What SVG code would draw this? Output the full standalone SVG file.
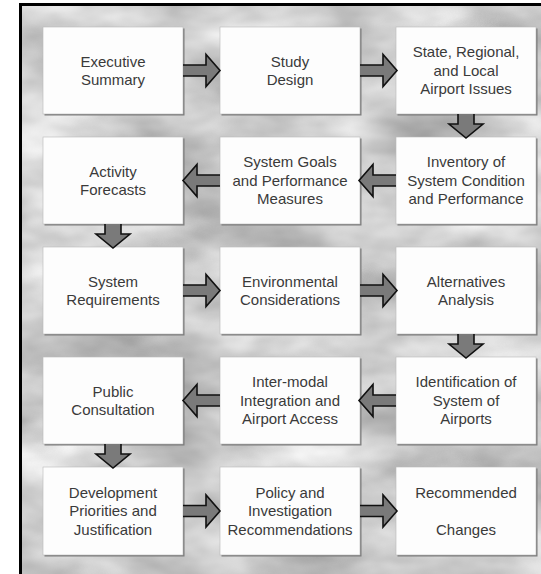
<svg xmlns="http://www.w3.org/2000/svg" xmlns:xlink="http://www.w3.org/1999/xlink" width="541" height="574" viewBox="0 0 541 574">
<defs>
<filter id="clouds" x="0" y="0" width="1" height="1" filterUnits="objectBoundingBox" color-interpolation-filters="sRGB">
<feTurbulence type="fractalNoise" baseFrequency="0.008 0.016" numOctaves="4" seed="7" result="n"/>
<feColorMatrix in="n" type="matrix" values="0.55 0 0 0 0.52  0.55 0 0 0 0.52  0.55 0 0 0 0.52  0 0 0 0 1"/>
</filter>
<path id="arrR" d="M0 -5.5 H23 V-16 L37 0 L23 16 V5.5 H0"/>
<path id="arrL" d="M0 -5.5 H-23 V-16 L-37 0 L-23 16 V5.5 H0"/>
<path id="arrD" d="M-8 0 V10 H-17 L0 24 L17 10 H8 V0"/>
</defs>
<style>
.box{fill:#fdfdfd;stroke:#b8b8b8;stroke-width:0.6}
.shadow{fill:#7a7a7a}
.lbl{font-family:"Liberation Sans",Arial,sans-serif;font-size:15px;fill:#3a3a3a;text-anchor:middle}
.arrow{fill:#7a7a7a;stroke:#111111;stroke-width:1.6;stroke-linejoin:miter}
</style>
<rect x="0" y="0" width="541" height="574" fill="#ffffff"/>
<rect id="background" x="20" y="4" width="521" height="570" filter="url(#clouds)" fill="#c8c8c8"/>
<path d="M20.5 574 V4.5 H541" fill="none" stroke="#000000" stroke-width="3"/>

<g id="n1"><rect class="shadow" x="44.5" y="28.5" width="140" height="87"/><rect class="box" x="43" y="27" width="140" height="87"/>
<text class="lbl" x="113" y="66.6">Executive</text><text class="lbl" x="113" y="85.1">Summary</text></g>
<g id="n2"><rect class="shadow" x="221.5" y="28.5" width="140" height="87"/><rect class="box" x="220" y="27" width="140" height="87"/>
<text class="lbl" x="290" y="66.6">Study</text><text class="lbl" x="290" y="85.1">Design</text></g>
<g id="n3"><rect class="shadow" x="397.5" y="28.5" width="140" height="87"/><rect class="box" x="396" y="27" width="140" height="87"/>
<text class="lbl" x="466" y="57.4">State, Regional,</text><text class="lbl" x="466" y="75.9">and Local</text><text class="lbl" x="466" y="94.4">Airport Issues</text></g>

<g id="n4"><rect class="shadow" x="44.5" y="138.5" width="140" height="87"/><rect class="box" x="43" y="137" width="140" height="87"/>
<text class="lbl" x="113" y="176.6">Activity</text><text class="lbl" x="113" y="195.1">Forecasts</text></g>
<g id="n5"><rect class="shadow" x="221.5" y="138.5" width="140" height="87"/><rect class="box" x="220" y="137" width="140" height="87"/>
<text class="lbl" x="290" y="167.4">System Goals</text><text class="lbl" x="290" y="185.9">and Performance</text><text class="lbl" x="290" y="204.4">Measures</text></g>
<g id="n6"><rect class="shadow" x="397.5" y="138.5" width="140" height="87"/><rect class="box" x="396" y="137" width="140" height="87"/>
<text class="lbl" x="466" y="167.4">Inventory of</text><text class="lbl" x="466" y="185.9">System Condition</text><text class="lbl" x="466" y="204.4">and Performance</text></g>

<g id="n7"><rect class="shadow" x="44.5" y="248.5" width="140" height="87"/><rect class="box" x="43" y="247" width="140" height="87"/>
<text class="lbl" x="113" y="286.6">System</text><text class="lbl" x="113" y="305.1">Requirements</text></g>
<g id="n8"><rect class="shadow" x="221.5" y="248.5" width="140" height="87"/><rect class="box" x="220" y="247" width="140" height="87"/>
<text class="lbl" x="290" y="286.6">Environmental</text><text class="lbl" x="290" y="305.1">Considerations</text></g>
<g id="n9"><rect class="shadow" x="397.5" y="248.5" width="140" height="87"/><rect class="box" x="396" y="247" width="140" height="87"/>
<text class="lbl" x="466" y="286.6">Alternatives</text><text class="lbl" x="466" y="305.1">Analysis</text></g>

<g id="n10"><rect class="shadow" x="44.5" y="358.5" width="140" height="87"/><rect class="box" x="43" y="357" width="140" height="87"/>
<text class="lbl" x="113" y="396.6">Public</text><text class="lbl" x="113" y="415.1">Consultation</text></g>
<g id="n11"><rect class="shadow" x="221.5" y="358.5" width="140" height="87"/><rect class="box" x="220" y="357" width="140" height="87"/>
<text class="lbl" x="290" y="387.4">Inter-modal</text><text class="lbl" x="290" y="405.9">Integration and</text><text class="lbl" x="290" y="424.4">Airport Access</text></g>
<g id="n12"><rect class="shadow" x="397.5" y="358.5" width="140" height="87"/><rect class="box" x="396" y="357" width="140" height="87"/>
<text class="lbl" x="466" y="387.4">Identification of</text><text class="lbl" x="466" y="405.9">System of</text><text class="lbl" x="466" y="424.4">Airports</text></g>

<g id="n13"><rect class="shadow" x="44.5" y="468.5" width="140" height="88"/><rect class="box" x="43" y="467" width="140" height="88"/>
<text class="lbl" x="113" y="497.9">Development</text><text class="lbl" x="113" y="516.4">Priorities and</text><text class="lbl" x="113" y="534.9">Justification</text></g>
<g id="n14"><rect class="shadow" x="221.5" y="468.5" width="140" height="88"/><rect class="box" x="220" y="467" width="140" height="88"/>
<text class="lbl" x="290" y="497.9">Policy and</text><text class="lbl" x="290" y="516.4">Investigation</text><text class="lbl" x="290" y="534.9">Recommendations</text></g>
<g id="n15"><rect class="shadow" x="397.5" y="468.5" width="140" height="88"/><rect class="box" x="396" y="467" width="140" height="88"/>
<text class="lbl" x="466" y="497.9">Recommended</text><text class="lbl" x="466" y="534.9">Changes</text></g>

<g id="connectors" class="arrow">
<use xlink:href="#arrR" x="183" y="70.5"/>
<use xlink:href="#arrR" x="360" y="70.5"/>
<use xlink:href="#arrD" x="466" y="114"/>
<use xlink:href="#arrL" x="396" y="180.5"/>
<use xlink:href="#arrL" x="220" y="180.5"/>
<use xlink:href="#arrD" x="113" y="224"/>
<use xlink:href="#arrR" x="183" y="290.5"/>
<use xlink:href="#arrR" x="360" y="290.5"/>
<use xlink:href="#arrD" x="466" y="334"/>
<use xlink:href="#arrL" x="396" y="400.5"/>
<use xlink:href="#arrL" x="220" y="400.5"/>
<use xlink:href="#arrD" x="113" y="444"/>
<use xlink:href="#arrR" x="183" y="511"/>
<use xlink:href="#arrR" x="360" y="511"/>
</g>
</svg>
